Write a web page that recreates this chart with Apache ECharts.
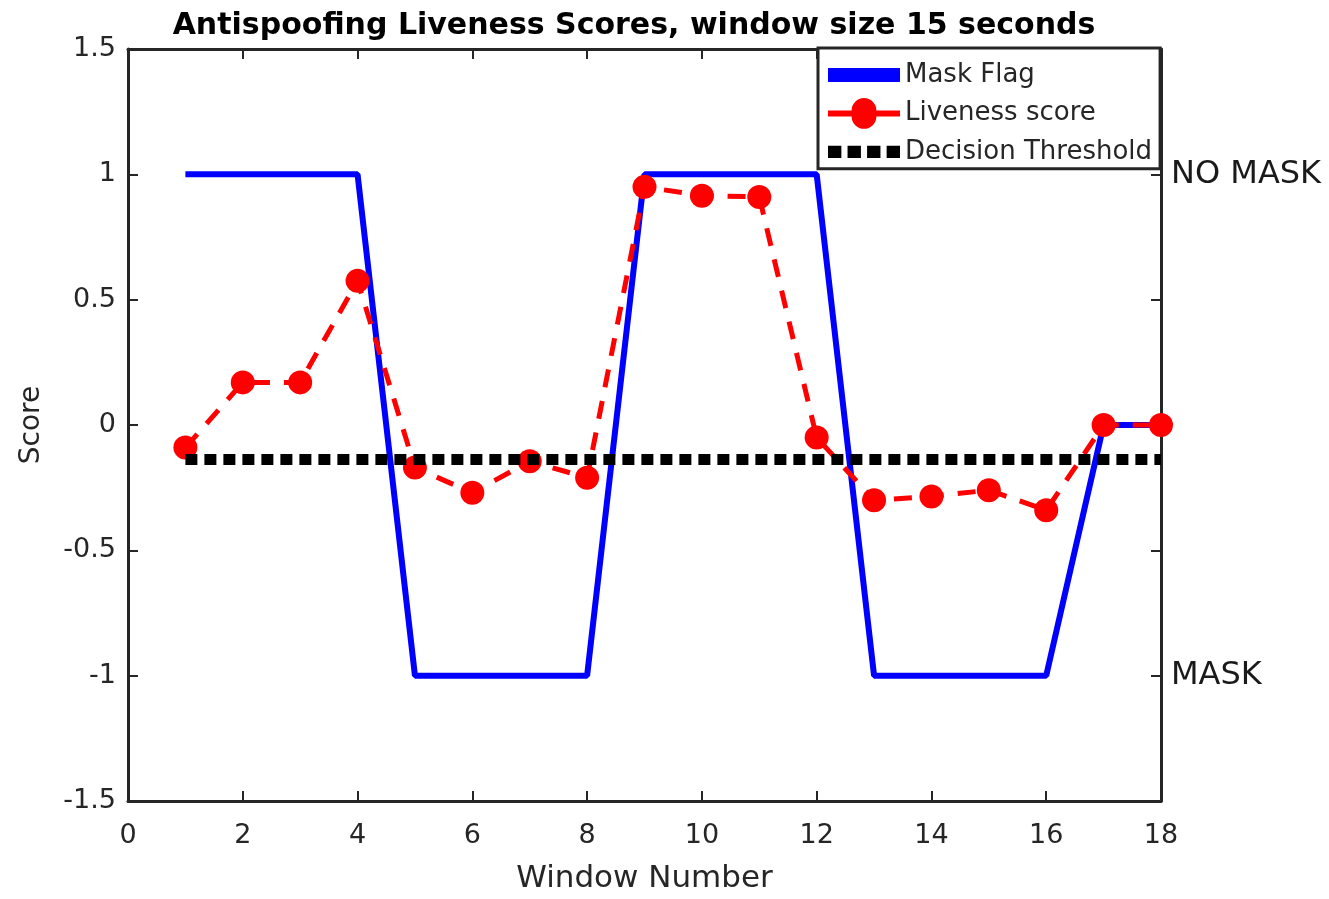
<!DOCTYPE html>
<html><head><meta charset="utf-8">
<script src="https://cdn.jsdelivr.net/npm/echarts@6/dist/echarts.min.js"></script>
<style>html,body{margin:0;padding:0;background:#fff;overflow:hidden}#c{width:1329px;height:899px}</style>
</head><body><div id="c"></div>
<script>
const windows = [1,2,3,4,5,6,7,8,9,10,11,12,13,14,15,16,17,18];
const maskFlag = [1,1,1,1,-1,-1,-1,-1,1,1,1,1,-1,-1,-1,-1,0,0];
const liveness = [-0.09,0.17,0.17,0.575,-0.17,-0.27,-0.145,-0.21,0.95,0.915,0.91,-0.05,-0.30,-0.285,-0.26,-0.34,0,0];
const threshold = -0.138;
const seriesNames = ['Mask Flag','Liveness score','Decision Threshold'];
const rightLabels = {'1':'NO MASK','-1':'MASK'};

const F = "'DejaVu Sans', Verdana, sans-serif";
const axisCol = '#262626';
const chart = echarts.init(document.getElementById('c'));
const pairs = a => windows.map((w,i)=>[w,a[i]]);

const iconRect = 'path://M0 9H72V23H0Z';
const iconLive = 'path://M0 13H23.6A12 12 0 1 1 48.4 13H72V19H48.4A12 12 0 1 1 23.6 19H0Z';
const iconDots = 'path://M0 10h13v12h-13z M19 10h13v12h-13z M38 10h13v12h-13z M57 10h13v12h-13z';

const axisBase = {
  axisLine:{show:true,onZero:false,lineStyle:{color:axisCol,width:3}},
  axisTick:{show:true,inside:true,length:10,lineStyle:{color:axisCol,width:2}},
  splitLine:{show:false}
};
chart.setOption({
  animation:false,
  title:{text:'Antispoofing Liveness Scores, window size 15 seconds',left:629,textAlign:'center',top:6,
    textStyle:{fontFamily:F,fontSize:30,fontWeight:'bold',color:'#000'}},
  grid:{left:128,right:168,top:49,bottom:88},
  legend:{left:818,top:48,orient:'vertical',itemWidth:72,itemHeight:32,itemGap:10,
    padding:[14,8,4,10],backgroundColor:'#fff',borderColor:axisCol,borderWidth:3,
    symbolKeepAspect:true,
    textStyle:{fontFamily:F,fontSize:26,color:'#262626'},
    data:[
      {name:seriesNames[0],icon:iconRect,itemStyle:{borderWidth:0}},
      {name:seriesNames[1],icon:iconLive,itemStyle:{borderWidth:0}},
      {name:seriesNames[2],icon:iconDots,itemStyle:{borderWidth:0}}
    ]},
  xAxis:[Object.assign({type:'value',min:0,max:18,interval:2,position:'bottom',
    axisLabel:{fontFamily:F,fontSize:27,color:axisCol,margin:21},
    name:'Window Number',nameLocation:'middle',nameGap:62,
    nameTextStyle:{fontFamily:F,fontSize:31,color:axisCol}},axisBase),
   Object.assign({type:'value',min:0,max:18,interval:2,position:'top',
    axisLabel:{show:false}},axisBase)],
  yAxis:[Object.assign({type:'value',min:-1.5,max:1.5,interval:0.5,position:'left',
    axisLabel:{fontFamily:F,fontSize:27,color:axisCol,margin:12,formatter:v=>String(v)},
    name:'Score',nameLocation:'middle',nameGap:82,nameRotate:90,
    nameTextStyle:{fontFamily:F,fontSize:28,color:axisCol}},axisBase),
   Object.assign({type:'value',min:-1.5,max:1.5,interval:0.5,position:'right',
    axisLabel:{fontFamily:F,fontSize:32,color:'#1a1a1a',margin:10,
      formatter:v=>rightLabels[String(v)]||''}},axisBase)],
  series:[
    {name:seriesNames[0],type:'line',data:pairs(maskFlag),symbol:'none',
      lineStyle:{color:'#0000ff',width:6},itemStyle:{color:'#0000ff'},z:3},
    {name:seriesNames[1],type:'line',data:pairs(liveness),symbol:'circle',symbolSize:24,
      lineStyle:{color:'#ff0000',width:5,type:[18,14]},itemStyle:{color:'#ff0000'},z:4},
    {name:seriesNames[2],type:'line',data:[[windows[0],threshold],[windows[windows.length-1],threshold]],
      symbol:'none',lineStyle:{color:'#000',width:11,type:[12,7]},itemStyle:{color:'#000'},z:5}
  ]
});
</script></body></html>
